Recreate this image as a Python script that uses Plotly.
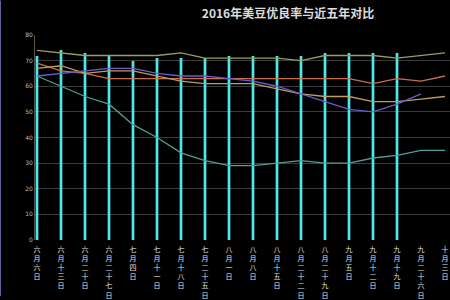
import plotly.graph_objects as go

categories = ["六月六日", "六月十三日", "六月二十日", "六月二十七日", "七月四日", "七月十一日",
              "七月十八日", "七月二十五日", "八月一日", "八月八日", "八月十五日", "八月二十二日",
              "八月二十九日", "九月五日", "九月十二日", "九月十九日", "九月二十六日", "十月三日"]
y2016 = [72, 74, 73, 72, 70, 71, 71, 71, 72, 72, 72, 72, 73, 73, 73, 73]
y2011 = [74, 73, 72, 72, 72, 72, 73, 71, 71, 71, 71, 70, 72, 72, 72, 71, 72, 73]
y2012 = [69, 66, 65, 63, 63, 63, 63, 63, 63, 63, 63, 63, 63, 63, 61, 63, 62, 64]
y2013 = [67, 68, 65, 66, 66, 64, 62, 61, 61, 61, 59, 57, 56, 56, 54, 54, 55, 56]
y2014 = [64, 65, 66, 67, 67, 65, 64, 64, 63, 62, 60, 57, 54, 51, 50, 53, 57]
y2015 = [64, 60, 56, 53, 45, 40, 34, 31, 29, 29, 30, 31, 30, 30, 32, 33, 35, 35]
years = ["2011", "2012", "2013", "2014", "2015"]
yticks = [0, 10, 20, 30, 40, 50, 60, 70, 80]

xs = list(range(len(categories)))
fig = go.Figure()
# glow under bars
fig.add_trace(go.Bar(x=xs[:len(y2016)], y=y2016, width=0.2,
                     marker=dict(color="rgba(80,230,230,0.35)", line=dict(width=0)),
                     hoverinfo="skip", showlegend=False))
fig.add_trace(go.Bar(x=xs[:len(y2016)], y=y2016, width=0.11, name="2016",
                     marker=dict(color="#4ee8e8", line=dict(width=0)), showlegend=False))

line_colors = ["#9c9c5e", "#c8704e", "#c49a5c", "#6a5ccc", "#4f9f9a"]
for name, vals, c in zip(years, [y2011, y2012, y2013, y2014, y2015], line_colors):
    fig.add_trace(go.Scatter(x=xs[:len(vals)], y=vals, mode="lines", name=name,
                             line=dict(color=c, width=1.3), showlegend=False))

ticktext = ["<br>".join(list(c)) for c in categories]

fig.update_layout(
    width=450, height=300,
    margin=dict(l=35, r=0, t=35, b=57),
    paper_bgcolor="black", plot_bgcolor="black",
    barmode="overlay", bargap=0,
    title=dict(text="<b>2016年美豆优良率与近五年对比</b>", x=0.64, xanchor="center",
               y=0.955, yanchor="middle",
               font=dict(family="Noto Sans CJK SC", size=12, color="#dddddd")),
    xaxis=dict(range=[-2/24, -2/24 + 415/24], tickmode="array", tickvals=xs, ticktext=ticktext,
               tickfont=dict(family="Noto Sans CJK SC", size=7, color="#e0e0e0"),
               ticklabelstandoff=4,
               showgrid=False, zeroline=False, showline=False, ticks=""),
    yaxis=dict(range=[0, 80], tickvals=yticks, showgrid=True, gridcolor="#3c3c3c", gridwidth=1,
               zeroline=False, showline=True, linecolor="#555555", ticks="",
               tickfont=dict(family="DejaVu Sans", size=6, color="#bbbbbb")),
    shapes=[dict(type="line", xref="paper", yref="paper", x0=-35/415, x1=-35/415, y0=-57/208, y1=1+35/208,
                 line=dict(color="#6a5a9a", width=2))],
)
fig.write_html("out.html")
